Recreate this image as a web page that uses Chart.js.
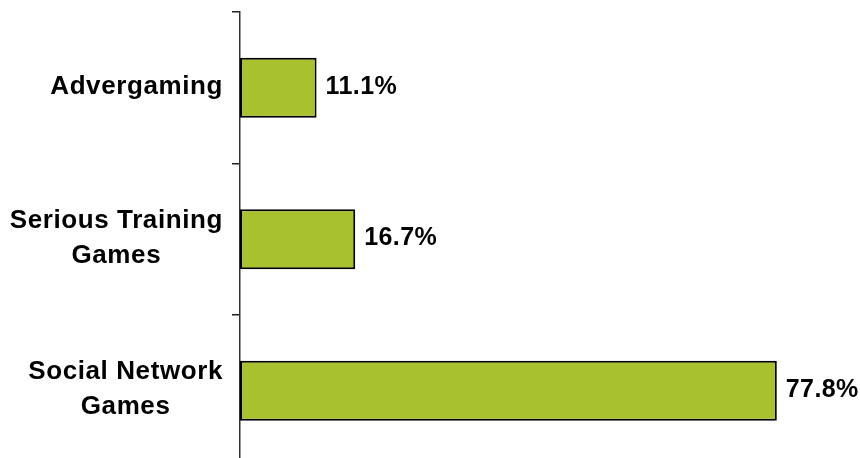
<!DOCTYPE html>
<html>
<head>
<meta charset="utf-8">
<script src="https://cdn.jsdelivr.net/npm/chart.js@4/dist/chart.umd.min.js"></script>
<style>
    html, body { margin: 0; padding: 0; background: #fff; overflow: hidden; }
    #wrap { width: 860px; height: 470px; position: relative; }
</style>
</head>
<body>
<div id="wrap"><canvas id="gamesChart"></canvas></div>
<script>
const categories = [
    ['Advergaming'],
    ['Serious Training', 'Games'],
    ['Social Network', 'Games']
];
const shares = [11.1, 16.7, 77.8];

const FONT = '"Liberation Sans", Arial, sans-serif';
const BAR_GREEN = '#a8c12f';

// category names: each one right-aligned as a block, its lines centred inside it
const categoryLabels = {
    id: 'categoryLabels',
    afterDraw(chart) {
        const ctx = chart.ctx;
        const scale = chart.scales.y;
        const right = scale.right - 17;
        const lineHeight = 35;
        ctx.save();
        ctx.font = 'bold 26px ' + FONT;
        ctx.letterSpacing = '0.6px';
        ctx.fillStyle = '#000';
        ctx.textAlign = 'center';
        ctx.textBaseline = 'middle';
        categories.forEach((lines, i) => {
            const widest = Math.max(...lines.map(l => ctx.measureText(l).width));
            const cx = right - widest / 2;
            const cy = scale.getPixelForValue(i);
            lines.forEach((line, j) => {
                const y = cy + (j - (lines.length - 1) / 2) * lineHeight - 1;
                ctx.fillText(line, cx, y);
            });
        });
        ctx.restore();
    }
};

// percentage next to the end of each bar
const valueLabels = {
    id: 'valueLabels',
    afterDatasetsDraw(chart) {
        const ctx = chart.ctx;
        const meta = chart.getDatasetMeta(0);
        ctx.save();
        ctx.font = 'bold 25px ' + FONT;
        ctx.letterSpacing = '0.4px';
        ctx.fillStyle = '#000';
        ctx.textAlign = 'left';
        ctx.textBaseline = 'middle';
        meta.data.forEach((bar, i) => {
            ctx.fillText(shares[i].toFixed(1) + '%', bar.x + 9, bar.y - 1);
        });
        ctx.restore();
    }
};

const ctx = document.getElementById('gamesChart').getContext('2d');
const gamesChart = new Chart(ctx, {
    type: 'bar',
    data: {
        labels: categories,
        datasets: [{
            data: shares,
            backgroundColor: BAR_GREEN,
            borderColor: '#000',
            borderWidth: 2,
            borderSkipped: false,
            barPercentage: 0.396,
            categoryPercentage: 1
        }]
    },
    options: {
        indexAxis: 'y',
        responsive: true,
        maintainAspectRatio: false,
        animation: false,
        layout: {
            padding: { top: 12, right: 68, bottom: 3.5, left: 0 }
        },
        plugins: {
            legend: { display: false },
            tooltip: { enabled: false }
        },
        scales: {
            x: {
                display: false,
                min: 0,
                max: 80
            },
            y: {
                afterFit: scale => { scale.width = 240; },
                ticks: { display: false },
                grid: {
                    offset: true,
                    drawOnChartArea: false,
                    drawTicks: true,
                    tickLength: 8,
                    color: '#222',
                    lineWidth: 1.5
                },
                border: { color: '#333', width: 1.5 }
            }
        }
    },
    plugins: [categoryLabels, valueLabels]
});
</script>
</body>
</html>
